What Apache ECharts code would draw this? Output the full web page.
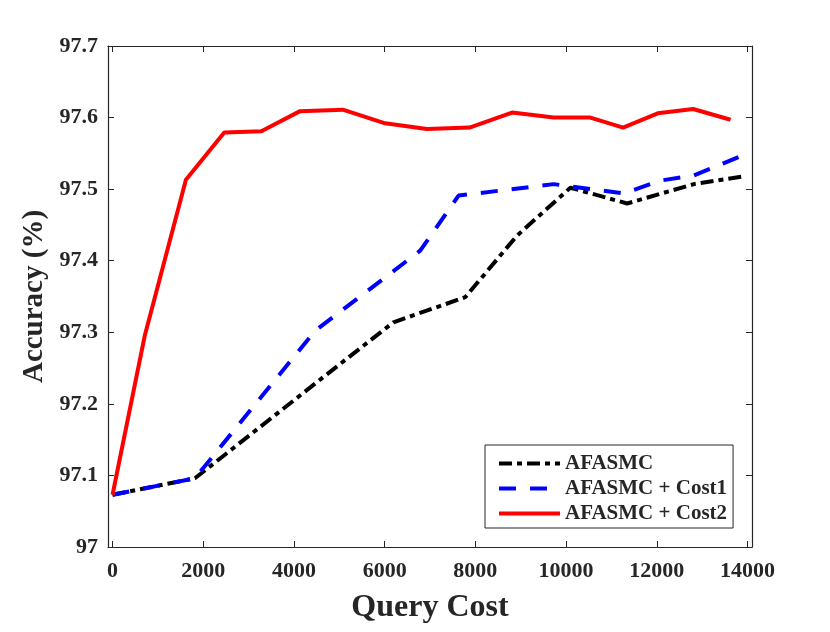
<!DOCTYPE html>
<html>
<head>
<meta charset="utf-8">
<script src="https://cdn.jsdelivr.net/npm/echarts@6/dist/echarts.min.js"></script>
<style>
  html, body { margin: 0; padding: 0; background: #fff; }
  #chart { width: 830px; height: 632px; }
</style>
</head>
<body>
<div id="chart"></div>
<script>
// query cost (x) and accuracy (y) for each curve
var costBase = [0, 1817, 3200, 4600, 6194, 7777, 8918, 10095, 11347, 12817, 13921];
var accBase = [97.073, 97.096, 97.165, 97.235, 97.314, 97.349, 97.435, 97.502, 97.480, 97.507, 97.518];

var costCost1 = [0, 1817, 4466, 6784, 7630, 9727, 11272, 12082, 12817, 13811];
var accCost1 = [97.073, 97.096, 97.302, 97.414, 97.491, 97.507, 97.494, 97.512, 97.519, 97.545];

var costCost2 = [0, 713, 1618, 2464, 3281, 4135, 5077, 6011, 6931, 7872, 8808, 9727, 10537, 11258, 12022, 12803, 13627];
var accCost2 = [97.073, 97.296, 97.513, 97.579, 97.581, 97.609, 97.611, 97.592, 97.584, 97.586, 97.607, 97.600, 97.600, 97.586, 97.606, 97.612, 97.597];

var xTicks = [0, 2000, 4000, 6000, 8000, 10000, 12000, 14000];

var seriesNames = ['AFASMC', 'AFASMC + Cost1', 'AFASMC + Cost2'];

var axisColor = '#262626';
var font = 'Liberation Serif, Times New Roman, serif';

function pairs(xs, ys) {
  return xs.map(function (x, i) { return [x, ys[i]]; });
}

var chart = echarts.init(document.getElementById('chart'), null, { renderer: 'canvas' });

// the box around the plot: ticks on all four sides, pointing in
var xCommon = {
  type: 'value',
  min: -100,
  max: 14100,
  axisLine: { show: true, onZero: false, lineStyle: { color: axisColor, width: 1.2 } },
  axisTick: { show: true, inside: true, length: 6, customValues: xTicks, lineStyle: { color: axisColor } },
  splitLine: { show: false }
};
var yCommon = {
  type: 'value',
  min: 97,
  max: 97.7,
  interval: 0.1,
  axisLine: { show: true, onZero: false, lineStyle: { color: axisColor, width: 1.2 } },
  axisTick: { show: true, inside: true, length: 6, lineStyle: { color: axisColor } },
  splitLine: { show: false }
};

chart.setOption({
  animation: false,
  backgroundColor: '#fff',
  grid: { left: 108, right: 78, top: 46, bottom: 85 },
  xAxis: [
    Object.assign({}, xCommon, {
      position: 'bottom',
      name: 'Query Cost',
      nameLocation: 'middle',
      nameGap: 45,
      nameTextStyle: { color: axisColor, fontFamily: font, fontWeight: 'bold', fontSize: 32 },
      axisLabel: {
        customValues: xTicks,
        formatter: function (v) { return String(v); },
        color: axisColor, fontFamily: font, fontWeight: 'bold', fontSize: 22, margin: 13
      }
    }),
    Object.assign({}, xCommon, { position: 'top', axisLabel: { show: false } })
  ],
  yAxis: [
    Object.assign({}, yCommon, {
      position: 'left',
      name: 'Accuracy (%)',
      nameLocation: 'middle',
      nameGap: 59,
      nameTextStyle: { color: axisColor, fontFamily: font, fontWeight: 'bold', fontSize: 29 },
      axisLabel: { color: axisColor, fontFamily: font, fontWeight: 'bold', fontSize: 22, margin: 10 }
    }),
    Object.assign({}, yCommon, { position: 'right', axisLabel: { show: false } })
  ],
  legend: {
    left: 485,
    top: 445,
    orient: 'vertical',
    itemWidth: 61,
    itemHeight: 14,
    itemGap: 4,
    itemTextGap: 5,
    padding: [8, 6, 4, 12],
    borderColor: axisColor,
    borderWidth: 1,
    backgroundColor: '#fff',
    itemStyle: { opacity: 0 },
    lineStyle: { width: 4 },
    textStyle: { color: axisColor, fontFamily: font, fontWeight: 'bold', fontSize: 21 },
    data: seriesNames
  },
  series: [
    {
      name: seriesNames[0],
      type: 'line',
      symbol: 'none',
      data: pairs(costBase, accBase),
      lineStyle: { color: '#000', width: 4, type: [13, 5, 5, 5] },
      itemStyle: { color: '#000' },
      z: 3
    },
    {
      name: seriesNames[1],
      type: 'line',
      symbol: 'none',
      data: pairs(costCost1, accCost1),
      lineStyle: { color: '#0000ff', width: 4, type: [17, 14] },
      itemStyle: { color: '#0000ff' },
      z: 4
    },
    {
      name: seriesNames[2],
      type: 'line',
      symbol: 'none',
      data: pairs(costCost2, accCost2),
      lineStyle: { color: '#ff0000', width: 4 },
      itemStyle: { color: '#ff0000' },
      z: 5
    }
  ]
});
</script>
</body>
</html>
